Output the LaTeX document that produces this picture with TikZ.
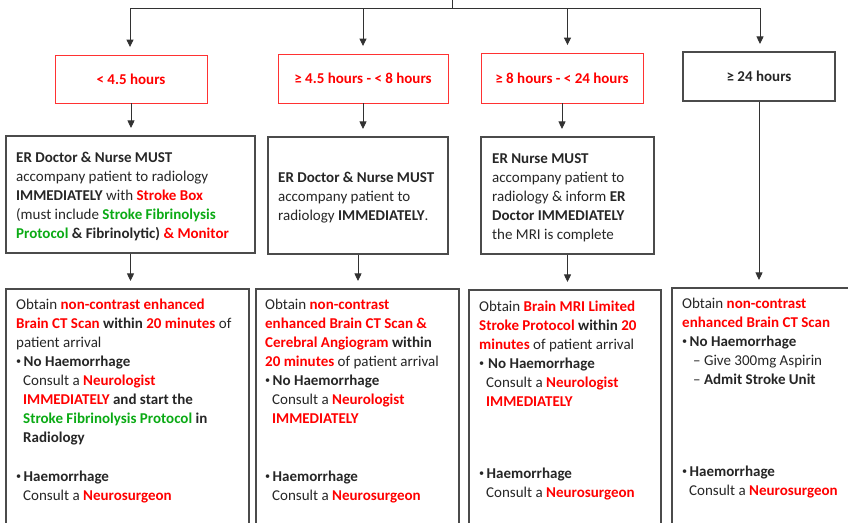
\documentclass[tikz,border=0pt]{standalone}
\usepackage{fontspec}
\setmainfont{Carlito}
\usetikzlibrary{arrows.meta}

\definecolor{ink}{RGB}{38,38,38}
\definecolor{alert}{RGB}{255,0,0}
\definecolor{proto}{RGB}{10,170,20}
\definecolor{edge}{RGB}{75,75,75}
\definecolor{redline}{RGB}{255,50,50}
\definecolor{wire}{RGB}{50,50,50}

% bold red / bold green emphasis
\newcommand\redb[1]{\textbf{\textcolor{alert}{#1}}}
\newcommand\greenb[1]{\textbf{\textcolor{proto}{#1}}}
% fixed first-line height so the north anchor sits 13pt above the first baseline
\newcommand\firstline{\rule{0pt}{13pt}}
\newcommand\ind{\hspace*{7pt}}
% small list bullet
\newcommand\blt{\makebox[7.5pt][l]{\raisebox{1.7pt}{\scalebox{0.68}{•}}}}

\tikzset{
  x=1pt, y=-1pt,
  redbox/.style={draw=redline, line width=0.9pt, fill=white, inner sep=0pt,
    font=\fontsize{15}{19}\selectfont\bfseries, text=alert},
  greybox/.style={draw=edge, line width=1.1pt, fill=white, inner sep=0pt,
    font=\fontsize{15}{19}\selectfont\bfseries, text=ink},
  plainbox/.style={draw=edge, line width=1.1pt, inner sep=0pt},
  txt/.style={anchor=north west, inner sep=0pt, align=left,
    font=\fontsize{15}{19}\selectfont, text=ink},
  arr/.style={draw=wire, line width=0.9pt, -{Triangle[width=7pt,length=7.5pt]}, shorten >=7.5pt},
  wireline/.style={draw=wire, line width=0.9pt}
}

\begin{document}
\begin{tikzpicture}
\useasboundingbox (0,0) rectangle (848,522);
\clip (0,0) rectangle (848,522);

% time-window headers
\node[redbox, minimum width=152pt, minimum height=48pt] (h1) at (131,79) {< 4.5 hours};
\node[redbox, minimum width=170pt, minimum height=49pt] (h2) at (363,78.5) {≥ 4.5 hours - < 8 hours};
\node[redbox, minimum width=162pt, minimum height=50pt] (h3) at (562,78) {≥ 8 hours - < 24 hours};
\node[greybox, minimum width=152pt, minimum height=49pt] (h4) at (759,76.5) {≥ 24 hours};

% who accompanies the patient
\node[plainbox, minimum width=249pt, minimum height=117pt] (m1) at (130.5,194.5) {};
\node[plainbox, minimum width=180pt, minimum height=117pt] (m2) at (358,195.5) {};
\node[plainbox, minimum width=173pt, minimum height=117pt] (m3) at (567.5,195.5) {};

% imaging and consult boxes (run past the page edge)
\node[plainbox, minimum width=243pt, minimum height=252pt] (b1) at (127.5,415) {};
\node[plainbox, minimum width=203pt, minimum height=252pt] (b2) at (357.5,415) {};
\node[plainbox, minimum width=192pt, minimum height=250pt] (b3) at (565,415) {};
\node[plainbox, minimum width=200pt, minimum height=254pt] (b4) at (772,415) {};

% top bus
\coordinate (stem) at (452,-2);
\coordinate (jn) at (452,8);
\coordinate (busL) at (130,8);
\coordinate (busR) at (760,8);
\draw[wireline] (stem) -- (jn);
\draw[wireline] (busL) -- (busR);
\draw[arr] (busL) -- (busL |- h1.north);
\draw[arr] (h2.north |- busL) -- (h2.north);
\draw[arr] (m3.north |- busL) -- (m3.north |- h3.north);
\draw[arr] (busR) -- (busR |- h4.north);

% header to next row
\draw[arr] (h1.south) -- (h1.south |- m1.north);
\draw[arr] (h2.south) -- (h2.south |- m2.north);
\draw[arr] (h3.south) -- (h3.south |- m3.north);
\draw[arr] (h4.south) -- (h4.south |- b4.north);

% middle row to bottom row
\draw[arr] (m1.south) -- (m1.south |- b1.north);
\draw[arr] (m2.south) -- (m2.south |- b2.north);
\draw[arr] (m3.south) -- (m3.south |- b3.north);

% texts of the middle row
\node[txt] (m1t) at (16,149) {\firstline\textbf{ER Doctor \& Nurse MUST}\\
accompany patient to radiology\\
\textbf{IMMEDIATELY} with \redb{Stroke Box}\\
(must include \greenb{Stroke Fibrinolysis}\\
\greenb{Protocol} \textbf{\& Fibrinolytic)} \redb{\& Monitor}};

\node[txt] (m2t) at (278,169) {\firstline\textbf{ER Doctor \& Nurse MUST}\\
accompany patient to\\
radiology \textbf{IMMEDIATELY}.};

\node[txt] (m3t) at (492,150) {\firstline\textbf{ER Nurse MUST}\\
accompany patient to\\
radiology \& inform \textbf{ER}\\
\textbf{Doctor IMMEDIATELY}\\
the MRI is complete};

% texts of the bottom row
\node[txt] (b1t) at (16,296) {\firstline Obtain \redb{non-contrast enhanced}\\
\redb{Brain CT Scan} \textbf{within} \redb{20 minutes} of\\
patient arrival\\
\blt\textbf{No Haemorrhage}\\
\ind Consult a \redb{Neurologist}\\
\ind\redb{IMMEDIATELY} \textbf{and start the}\\
\ind\greenb{Stroke Fibrinolysis Protocol} \textbf{in}\\
\ind\textbf{Radiology}\\[20pt]
\blt\textbf{Haemorrhage}\\
\ind Consult a \redb{Neurosurgeon}};

\node[txt] (b2t) at (265,296) {\firstline Obtain \redb{non-contrast}\\
\redb{enhanced Brain CT Scan \&}\\
\redb{Cerebral Angiogram} \textbf{within}\\
\redb{20 minutes} of patient arrival\\
\blt\textbf{No Haemorrhage}\\
\ind Consult a \redb{Neurologist}\\
\ind\redb{IMMEDIATELY}\\[39pt]
\blt\textbf{Haemorrhage}\\
\ind Consult a \redb{Neurosurgeon}};

\node[txt] (b3t) at (479,298) {\firstline Obtain \redb{Brain MRI Limited}\\
\redb{Stroke Protocol} \textbf{within} \redb{20}\\
\redb{minutes} of patient arrival\\
\blt\hspace{1.5pt}\textbf{No Haemorrhage}\\
\ind Consult a \redb{Neurologist}\\
\ind\redb{IMMEDIATELY}\\[53pt]
\blt\textbf{Haemorrhage}\\
\ind Consult a \redb{Neurosurgeon}};

\node[txt] (b4t) at (682,295) {\firstline Obtain \redb{non-contrast}\\
\redb{enhanced Brain CT Scan}\\
\blt\textbf{No Haemorrhage}\\
\hspace*{11pt}– Give 300mg Aspirin\\
\hspace*{11pt}– \textbf{Admit Stroke Unit}\\[73pt]
\blt\textbf{Haemorrhage}\\
\ind Consult a \redb{Neurosurgeon}};
\end{tikzpicture}
\end{document}
